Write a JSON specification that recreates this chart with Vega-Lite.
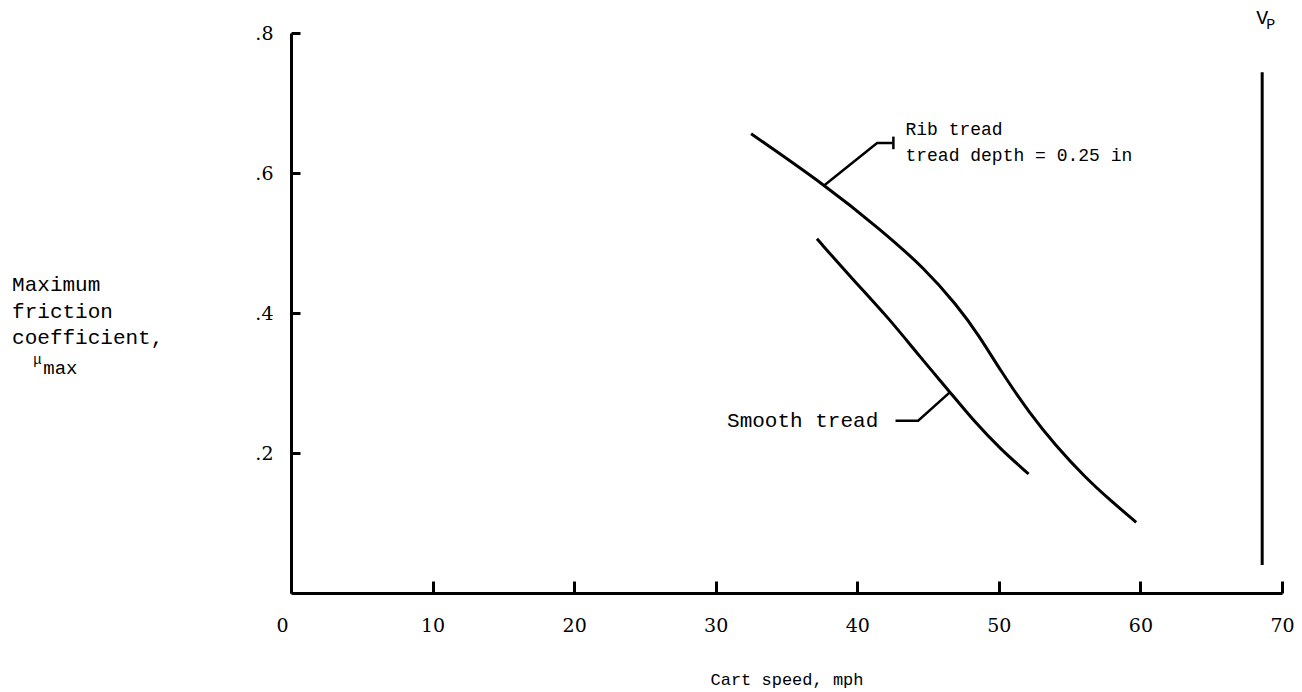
{
  "$schema": "https://vega.github.io/schema/vega-lite/v6.json",
  "width": 991,
  "height": 560,
  "autosize": "none",
  "padding": {"left": 291, "top": 33, "right": 20, "bottom": 99},
  "background": "white",
  "config": {"view": {"stroke": null}},
  "datasets": {
    "curves": [
      {"series": "Rib tread", "speed": 32.5, "mu": 0.656},
      {"series": "Rib tread", "speed": 37.7, "mu": 0.583},
      {"series": "Rib tread", "speed": 41.6, "mu": 0.520},
      {"series": "Rib tread", "speed": 44.8, "mu": 0.463},
      {"series": "Rib tread", "speed": 47.0, "mu": 0.412},
      {"series": "Rib tread", "speed": 48.6, "mu": 0.368},
      {"series": "Rib tread", "speed": 50.1, "mu": 0.318},
      {"series": "Rib tread", "speed": 52.2, "mu": 0.256},
      {"series": "Rib tread", "speed": 54.0, "mu": 0.211},
      {"series": "Rib tread", "speed": 56.1, "mu": 0.165},
      {"series": "Rib tread", "speed": 57.9, "mu": 0.132},
      {"series": "Rib tread", "speed": 59.7, "mu": 0.101},
      {"series": "Smooth tread", "speed": 37.15, "mu": 0.506},
      {"series": "Smooth tread", "speed": 39.5, "mu": 0.452},
      {"series": "Smooth tread", "speed": 42.3, "mu": 0.391},
      {"series": "Smooth tread", "speed": 44.4, "mu": 0.338},
      {"series": "Smooth tread", "speed": 46.55, "mu": 0.287},
      {"series": "Smooth tread", "speed": 48.3, "mu": 0.244},
      {"series": "Smooth tread", "speed": 50.1, "mu": 0.206},
      {"series": "Smooth tread", "speed": 52.1, "mu": 0.170}
    ],
    "leaders": [
      {"leader": "rib", "speed": 37.7, "mu": 0.583, "ord": 1},
      {"leader": "rib", "speed": 41.4, "mu": 0.643, "ord": 2},
      {"leader": "rib", "speed": 42.5, "mu": 0.643, "ord": 3},
      {"leader": "ribtick", "speed": 42.55, "mu": 0.634, "ord": 1},
      {"leader": "ribtick", "speed": 42.55, "mu": 0.652, "ord": 2},
      {"leader": "smooth", "speed": 46.55, "mu": 0.287, "ord": 1},
      {"leader": "smooth", "speed": 44.3, "mu": 0.246, "ord": 2},
      {"leader": "smooth", "speed": 42.7, "mu": 0.246, "ord": 3}
    ],
    "vp": [{"speed": 68.6, "mu": 0.04, "mu2": 0.744}],
    "riblabels": [
      {"text": "Rib tread", "speed": 43.4, "mu": 0.661},
      {"text": "tread depth = 0.25 in", "speed": 43.4, "mu": 0.625}
    ],
    "smoothlabel": [
      {"text": "Smooth tread", "speed": 30.8, "mu": 0.246}
    ],
    "ytitle": [
      {"text": "Maximum", "speed": -19.7, "mu": 0.440},
      {"text": "friction", "speed": -19.7, "mu": 0.402},
      {"text": "coefficient,", "speed": -19.7, "mu": 0.365}
    ],
    "maxlabel": [{"text": "max", "speed": -17.5, "mu": 0.322}],
    "mu": [{"text": "μ", "speed": -18.2, "mu": 0.333}],
    "vlabel": [{"text": "V", "speed": 68.6, "mu": 0.822}],
    "plabel": [{"text": "P", "speed": 69.2, "mu": 0.813}]
  },
  "layer": [
    {
      "data": {"name": "curves"},
      "mark": {"type": "line", "color": "black", "strokeWidth": 3, "interpolate": "basis"},
      "encoding": {
        "x": {
          "field": "speed", "type": "quantitative",
          "scale": {"domain": [0, 70], "nice": false, "zero": false},
          "axis": {
            "values": [0, 10, 20, 30, 40, 50, 60, 70],
            "title": "Cart speed, mph",
            "titleFont": "Liberation Mono", "titleFontSize": 17, "titleFontWeight": "normal",
            "titleColor": "black", "titlePadding": 36,
            "domainColor": "black", "domainWidth": 3,
            "tickColor": "black", "tickWidth": 3, "tickSize": -12,
            "labelFont": "DejaVu Serif", "labelFontSize": 19, "labelColor": "black",
            "labelFlush": false,
            "labelPadding": 35, "labelOffset": {"expr": "datum.value == 0 ? -9 : 0"},
            "grid": false
          }
        },
        "y": {
          "field": "mu", "type": "quantitative",
          "scale": {"domain": [0, 0.8], "nice": false, "zero": false},
          "axis": {
            "values": [0.2, 0.4, 0.6, 0.8],
            "format": ".1f",
            "labelExpr": "replace(datum.label, '0.', '.')",
            "title": null,
            "domainColor": "black", "domainWidth": 3,
            "tickColor": "black", "tickWidth": 3, "tickSize": -9,
            "labelFont": "DejaVu Serif", "labelFontSize": 19, "labelColor": "black",
            "labelFlush": false,
            "labelPadding": 27,
            "grid": false
          }
        },
        "detail": {"field": "series"}
      }
    },
    {
      "data": {"name": "leaders"},
      "mark": {"type": "line", "color": "black", "strokeWidth": 2.5},
      "encoding": {
        "x": {"field": "speed", "type": "quantitative"},
        "y": {"field": "mu", "type": "quantitative"},
        "order": {"field": "ord"},
        "detail": {"field": "leader"}
      }
    },
    {
      "data": {"name": "vp"},
      "mark": {"type": "rule", "color": "black", "strokeWidth": 3},
      "encoding": {
        "x": {"field": "speed", "type": "quantitative"},
        "y": {"field": "mu", "type": "quantitative"},
        "y2": {"field": "mu2"}
      }
    },
    {
      "data": {"name": "riblabels"},
      "mark": {"type": "text", "font": "Liberation Mono", "fontSize": 18, "align": "left", "baseline": "middle", "color": "black"},
      "encoding": {
        "x": {"field": "speed", "type": "quantitative"},
        "y": {"field": "mu", "type": "quantitative"},
        "text": {"field": "text"}
      }
    },
    {
      "data": {"name": "smoothlabel"},
      "mark": {"type": "text", "font": "Liberation Mono", "fontSize": 21, "align": "left", "baseline": "middle", "color": "black"},
      "encoding": {
        "x": {"field": "speed", "type": "quantitative"},
        "y": {"field": "mu", "type": "quantitative"},
        "text": {"field": "text"}
      }
    },
    {
      "data": {"name": "ytitle"},
      "mark": {"type": "text", "font": "Liberation Mono", "fontSize": 21, "align": "left", "baseline": "middle", "color": "black"},
      "encoding": {
        "x": {"field": "speed", "type": "quantitative"},
        "y": {"field": "mu", "type": "quantitative"},
        "text": {"field": "text"}
      }
    },
    {
      "data": {"name": "maxlabel"},
      "mark": {"type": "text", "font": "Liberation Mono", "fontSize": 19, "align": "left", "baseline": "middle", "color": "black"},
      "encoding": {
        "x": {"field": "speed", "type": "quantitative"},
        "y": {"field": "mu", "type": "quantitative"},
        "text": {"field": "text"}
      }
    },
    {
      "data": {"name": "mu"},
      "mark": {"type": "text", "font": "Liberation Mono", "fontSize": 14, "align": "left", "baseline": "middle", "color": "black"},
      "encoding": {
        "x": {"field": "speed", "type": "quantitative"},
        "y": {"field": "mu", "type": "quantitative"},
        "text": {"field": "text"}
      }
    },
    {
      "data": {"name": "vlabel"},
      "mark": {"type": "text", "font": "Liberation Mono", "fontSize": 20, "align": "center", "baseline": "middle", "color": "black"},
      "encoding": {
        "x": {"field": "speed", "type": "quantitative"},
        "y": {"field": "mu", "type": "quantitative"},
        "text": {"field": "text"}
      }
    },
    {
      "data": {"name": "plabel"},
      "mark": {"type": "text", "font": "Liberation Mono", "fontSize": 15, "align": "center", "baseline": "middle", "color": "black"},
      "encoding": {
        "x": {"field": "speed", "type": "quantitative"},
        "y": {"field": "mu", "type": "quantitative"},
        "text": {"field": "text"}
      }
    }
  ]
}
